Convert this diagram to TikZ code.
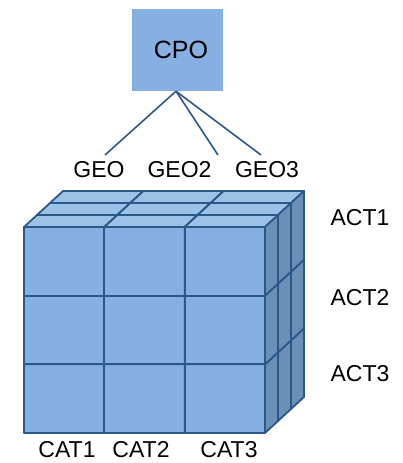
\documentclass[tikz,border=0pt]{standalone}
\usepackage{fontspec}
\setmainfont{Liberation Sans}
\definecolor{edgeblue}{HTML}{2B5889}
\definecolor{frontblue}{HTML}{85B0E1}
\definecolor{topblue}{HTML}{9DC2E8}
\definecolor{sideblue}{HTML}{6B8FB7}
\begin{document}
\begin{tikzpicture}[x=1pt,y=-1pt,
  facet/.style={draw=edgeblue,line width=1.8pt,line join=round},
  link/.style={draw=edgeblue,line width=1.6pt},
  lbl/.style={inner sep=0pt,font=\fontsize{23}{27}\selectfont},
  cpobox/.style={fill=frontblue,minimum width=91pt,minimum height=82pt,
    inner sep=0pt,font=\fontsize{25}{30}\selectfont}]
\useasboundingbox (0,0) rectangle (402,463);

% cube cell size and depth step
\def\cw{80.33}
\def\ch{68.67}

% three slabs of 3x3 cubes, painted from the back slab to the front one
\foreach \L in {2,1,0}{
  \foreach \r in {2,1,0}{
    \foreach \c in {0,1,2}{
      \pgfmathsetmacro{\px}{24+13*\L+\cw*\c}
      \pgfmathsetmacro{\py}{227-12*\L+\ch*\r}
      \path[facet,fill=frontblue] (\px,\py) rectangle ++(\cw,\ch);
      \path[facet,fill=topblue] (\px,\py) -- ++(13,-12) -- ++(\cw,0) -- ++(-13,12) -- cycle;
      \path[facet,fill=sideblue] (\px+\cw,\py) -- ++(13,-12) -- ++(0,\ch) -- ++(-13,12) -- cycle;
    }
  }
}

% hierarchy on top
\node[cpobox] (cpo) at (177.5,50) {\hspace*{7pt}CPO};
\node[lbl] (geo1) at (99,170) {GEO};
\node[lbl] (geo2) at (179.5,170) {GEO2};
\node[lbl] (geo3) at (267,170) {GEO3};
\coordinate (g1) at (105,155);
\coordinate (g2) at (218,155);
\coordinate (g3) at (261,155);
\draw[link] ([xshift=-1.5pt]cpo.south) -- (g1);
\draw[link] ([xshift=-1.5pt]cpo.south) -- (g2);
\draw[link] ([xshift=-1.5pt]cpo.south) -- (g3);

% axis labels
\node[lbl] (act1) at (360,218) {ACT1};
\node[lbl] (act2) at (360,298) {ACT2};
\node[lbl] (act3) at (360,374) {ACT3};
\node[lbl] (cat1) at (67,450) {CAT1};
\node[lbl] (cat2) at (141,450) {CAT2};
\node[lbl] (cat3) at (229,450) {CAT3};
\end{tikzpicture}
\end{document}
